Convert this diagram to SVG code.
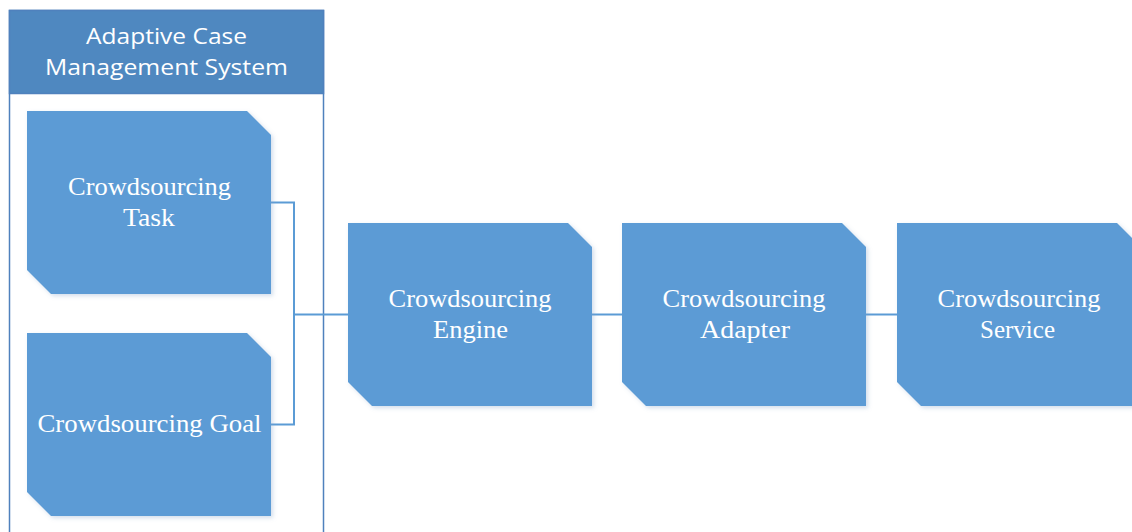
<svg xmlns="http://www.w3.org/2000/svg" width="1132" height="532" viewBox="0 0 1132 532">
<defs>
<filter id="sh" x="-10%" y="-10%" width="125%" height="125%">
<feDropShadow dx="2" dy="2" stdDeviation="2" flood-color="#7f9fc8" flood-opacity="0.35"/>
</filter>
<path id="oct" d="M0,0 H220 L244,24 V183 H24 L0,159 Z"/>
</defs>
<style>
.node{fill:#5b9bd5;filter:url(#sh);}
.lbl{font-family:"Liberation Serif","Times New Roman",serif;font-size:25px;fill:#ffffff;text-anchor:middle;}
.hdr{font-family:"Open Sans","Noto Sans","Liberation Sans",sans-serif;font-size:22px;fill:#ffffff;text-anchor:middle;}
.conn{fill:none;stroke:#5b9bd5;stroke-width:2;}
</style>
<rect width="1132" height="532" fill="#ffffff"/>
<g id="container">
<rect x="9.5" y="10.5" width="314" height="540" fill="#ffffff" stroke="#4f81bd" stroke-width="1.5"/>
<rect x="9.5" y="10.5" width="314" height="83" fill="#4f88c0" stroke="#4f81bd" stroke-width="1.5"/>
<text class="hdr" x="166.5" y="44" textLength="161" lengthAdjust="spacingAndGlyphs">Adaptive Case</text>
<text class="hdr" x="166.5" y="75" textLength="243" lengthAdjust="spacingAndGlyphs">Management System</text>
</g>
<g id="connectors">
<polyline class="conn" points="271,202.5 294,202.5 294,424.5 271,424.5"/>
<line class="conn" x1="294" y1="314.5" x2="348" y2="314.5"/>
<line class="conn" x1="592" y1="314.5" x2="622" y2="314.5"/>
<line class="conn" x1="866" y1="314.5" x2="897" y2="314.5"/>
</g>
<g id="task">
<use href="#oct" class="node" x="27" y="111"/>
<text class="lbl" x="149.5" y="195" textLength="163" lengthAdjust="spacingAndGlyphs">Crowdsourcing</text>
<text class="lbl" x="149" y="226" textLength="52" lengthAdjust="spacingAndGlyphs">Task</text>
</g>
<g id="goal">
<use href="#oct" class="node" x="27" y="333"/>
<text class="lbl" x="149.5" y="432" textLength="224" lengthAdjust="spacingAndGlyphs">Crowdsourcing Goal</text>
</g>
<g id="engine">
<use href="#oct" class="node" x="348" y="223"/>
<text class="lbl" x="470" y="307" textLength="163" lengthAdjust="spacingAndGlyphs">Crowdsourcing</text>
<text class="lbl" x="470.5" y="338" textLength="75" lengthAdjust="spacingAndGlyphs">Engine</text>
</g>
<g id="adapter">
<use href="#oct" class="node" x="622" y="223"/>
<text class="lbl" x="744" y="307" textLength="163" lengthAdjust="spacingAndGlyphs">Crowdsourcing</text>
<text class="lbl" x="745" y="338" textLength="90" lengthAdjust="spacingAndGlyphs">Adapter</text>
</g>
<g id="service">
<use href="#oct" class="node" x="897" y="223"/>
<text class="lbl" x="1019" y="307" textLength="163" lengthAdjust="spacingAndGlyphs">Crowdsourcing</text>
<text class="lbl" x="1017.5" y="338" textLength="75" lengthAdjust="spacingAndGlyphs">Service</text>
</g>
</svg>
